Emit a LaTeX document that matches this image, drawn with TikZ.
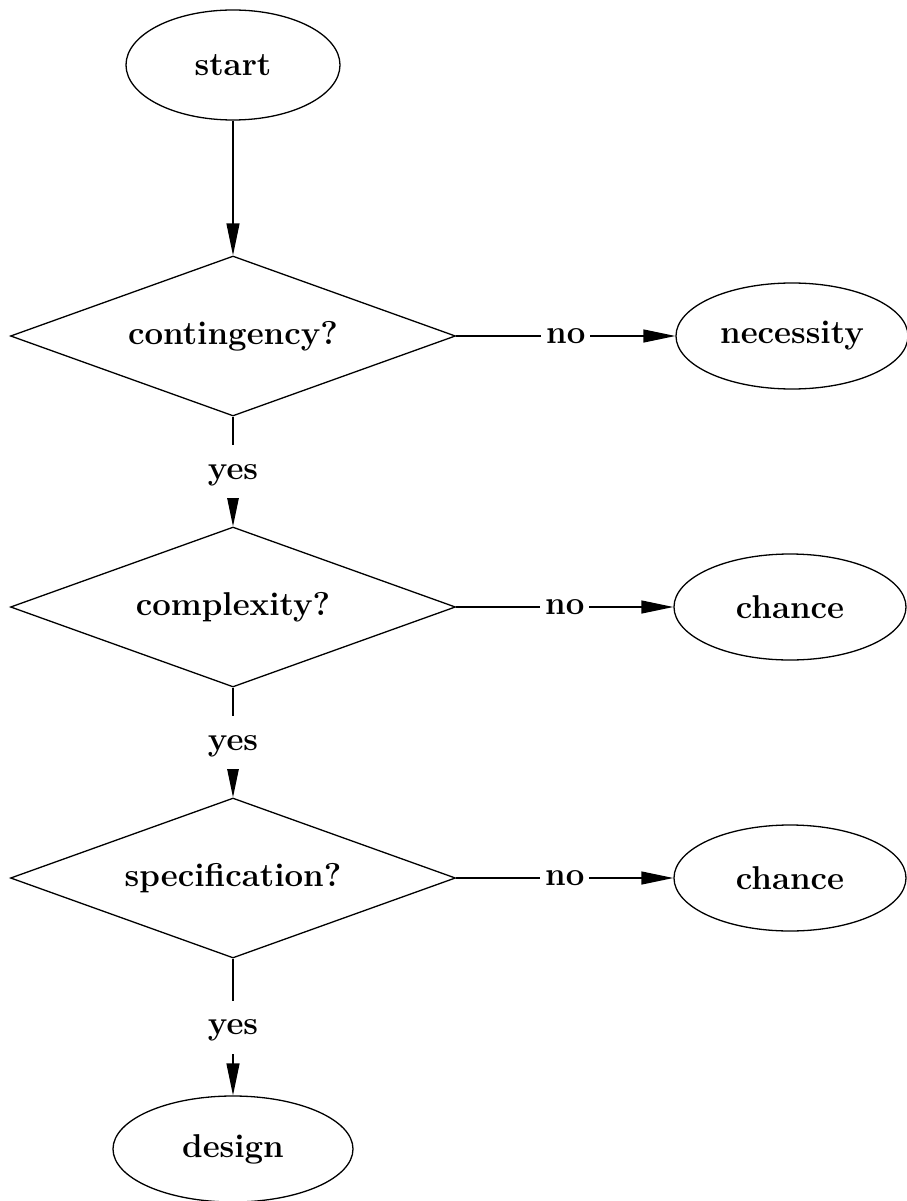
\documentclass[tikz,border=0pt]{standalone}
\usepackage{fontspec}
\usetikzlibrary{shapes.geometric, arrows.meta, positioning}

\begin{document}
\begin{tikzpicture}[x=1pt, y=-1pt, node distance = 271pt,%
	>={Triangle[length=32pt, width=13pt]}, line width=1.3pt,
	every node/.style={font = \fontsize{33}{40}\selectfont\bfseries},
	decision/.style={diamond, draw, aspect=2.8, minimum width=445pt, minimum height=160pt, inner sep=0pt},
	terminal/.style={ellipse, draw, minimum width=232pt, minimum height=106pt}]
	\useasboundingbox (0,0) rectangle (906,1201);
	\node (start) [terminal, minimum width=214pt, minimum height=110pt] at (233,65) {start};
	\node (cont) [decision, below of = start] {contingency?};
	\node (comp) [decision, below of = cont] {complexity?};
	\node (spec) [decision, below of = comp] {specification?};
	\node (design) [terminal, minimum width=240pt, node distance=271pt, below of = spec] {design};
	\node (nec) [terminal, node distance=559pt, right of = cont] {necessity};
	\node (ch1) [terminal, node distance=557pt, right of = comp] {chance};
	\node (ch2) [terminal, node distance=557pt, right of = spec] {chance};

	\path[->, every node/.style={fill=white, font = \fontsize{33}{40}\selectfont\bfseries,%
		inner xsep=5pt, inner ysep=10pt, text height=24pt, text depth=9pt}]
	(start) edge (cont)
	(cont) edge node {no} (nec)
		edge node {yes} (comp)
	(comp) edge node {no} (ch1)
		edge node {yes} (spec)
	(spec) edge node {no} (ch2)
		edge node {yes} (design);
\end{tikzpicture}
\end{document}
